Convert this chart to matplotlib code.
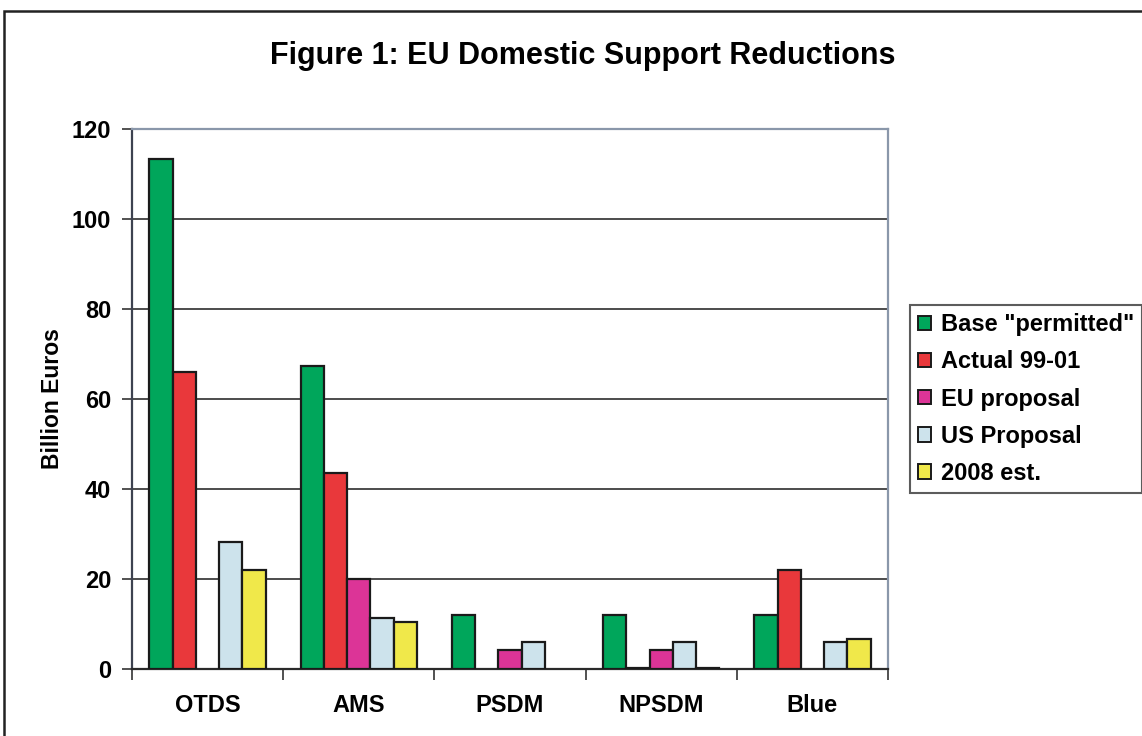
import matplotlib
matplotlib.use("Agg")
import matplotlib.pyplot as plt
from matplotlib.patches import Rectangle
import numpy as np

plt.rcParams['font.family'] = ['Liberation Sans', 'DejaVu Sans']
plt.rcParams['font.weight'] = 'bold'

categories = ["OTDS", "AMS", "PSDM", "NPSDM", "Blue"]
series_names = ['Base "permitted"', "Actual 99-01", "EU proposal", "US Proposal", "2008 est."]
base_permitted = [113.3, 67.3, 12.1, 12.1, 12.0]
actual_99_01 = [66.0, 43.6, 0.0, 0.3, 22.0]
eu_proposal = [0.0, 20.0, 4.3, 4.3, 0.0]
us_proposal = [28.2, 11.3, 5.9, 5.9, 5.9]
est_2008 = [21.9, 10.5, 0.0, 0.3, 6.6]
colors = ["#00a65b", "#e9383b", "#dc3497", "#cde3ec", "#f0e84a"]
yticks = [0, 20, 40, 60, 80, 100, 120]

series = [base_permitted, actual_99_01, eu_proposal, us_proposal, est_2008]

fig = plt.figure(figsize=(11.42, 7.36), dpi=100)
ax = fig.add_axes([132 / 1142, 1 - 669 / 736, (888 - 132) / 1142, (669 - 129) / 736])

n = len(series)
bw = 1 / (n + 1.5)
x = np.arange(len(categories)) + 0.5
for i, (vals, name, col) in enumerate(zip(series, series_names, colors)):
    offs = (i - (n - 1) / 2) * bw
    vals = np.asarray(vals)
    xs = x + offs
    mask = vals > 0
    ax.bar(xs[mask], vals[mask], width=bw, color=col, edgecolor="#1a1a1a",
           linewidth=1.6, zorder=3, label=name)

ax.set_xlim(0, len(categories))
ax.set_ylim(0, 120)
ax.set_yticks(yticks)
ax.set_yticklabels([str(v) for v in yticks])
ax.yaxis.grid(True, color="#2e2e2e", linewidth=1.2, zorder=0)
ax.set_axisbelow(True)

ax.set_xticks(np.arange(len(categories) + 1))
ax.set_xticklabels([])
ax.set_xticks(x, minor=True)
ax.set_xticklabels(categories, minor=True)
ax.tick_params(axis="x", which="major", direction="out", length=8, width=1.2, color="#333333")
ax.tick_params(axis="x", which="minor", length=0, pad=18, labelsize=17)
ax.tick_params(axis="y", direction="out", length=7, width=1.2, color="#333333",
               labelsize=17, pad=8)
for lab in ax.get_xticklabels(minor=True) + ax.get_yticklabels():
    lab.set_fontweight("bold")

for side in ["top", "right"]:
    ax.spines[side].set_color("#8a97aa")
    ax.spines[side].set_linewidth(1.6)
ax.spines["left"].set_color("#3d4250")
ax.spines["left"].set_linewidth(1.6)
ax.spines["bottom"].set_color("#2a2a2a")
ax.spines["bottom"].set_linewidth(1.6)

ax.set_ylabel("Billion Euros", fontsize=16.5, fontweight="bold", labelpad=5.5)

fig.text(583 / 1142, 1 - 56 / 736, "Figure 1: EU Domestic Support Reductions",
         ha="center", va="center", fontsize=22, fontweight="bold")

leg = fig.legend(loc="upper left", bbox_to_anchor=(910 / 1142, 1 - 305 / 736),
                 fontsize=17, frameon=True, fancybox=False, handlelength=0.55,
                 handleheight=0.55, handletextpad=0.4, labelspacing=0.6,
                 borderpad=0.35, borderaxespad=0)
leg.get_frame().set_edgecolor("#333333")
leg.get_frame().set_linewidth(1.5)
for t in leg.get_texts():
    t.set_fontweight("bold")
for h in leg.legend_handles:
    h.set_linewidth(1.4)

fig.patches.append(Rectangle((4 / 1142, -0.1), 1.2, 1 - 11 / 736 + 0.1,
                             transform=fig.transFigure, fill=False,
                             edgecolor="#222222", linewidth=1.8))

fig.savefig("out.png", dpi=100)
